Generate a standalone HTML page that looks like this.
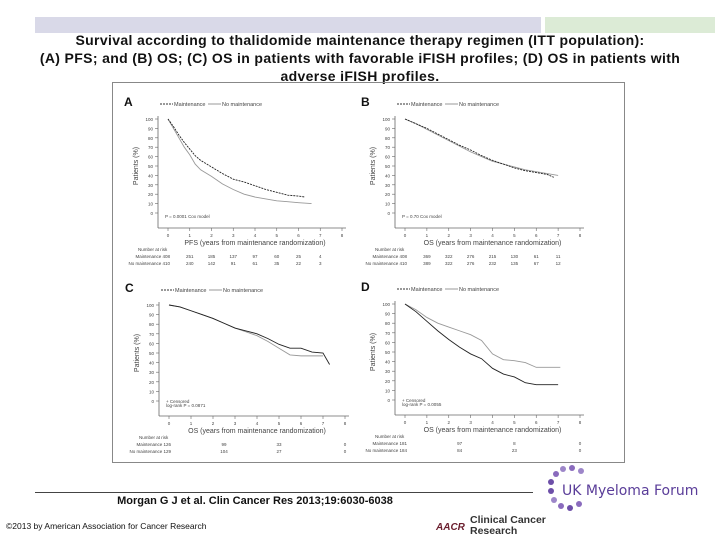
<!DOCTYPE html>
<html><head><meta charset="utf-8"><style>
body{margin:0;width:720px;height:540px;background:#fff;position:relative;overflow:hidden;font-family:"Liberation Sans",sans-serif}
.t{position:absolute;left:0;width:720px;text-align:center;font-weight:bold;font-size:14px;letter-spacing:0.35px;line-height:18px;color:#111;white-space:nowrap}
</style></head><body>
<div style="position:absolute;left:35px;top:17px;width:506px;height:16px;background:#d9d9e8"></div>
<div style="position:absolute;left:545px;top:17px;width:170px;height:16px;background:#dcebd6"></div>
<div class="t" style="top:31px">Survival according to thalidomide maintenance therapy regimen (ITT population):<br>(A) PFS; and (B) OS; (C) OS in patients with favorable iFISH profiles; (D) OS in patients with<br>adverse iFISH profiles.</div>
<svg width="720" height="540" style="position:absolute;left:0;top:0">
<rect x="112.5" y="82.5" width="512" height="380" fill="none" stroke="#888"/>
<g id="g"></g>
<line x1="35" y1="492.5" x2="533" y2="492.5" stroke="#444"/>
<text x="255" y="504" font-size="11" font-weight="bold" text-anchor="middle" fill="#111">Morgan G J et al. Clin Cancer Res 2013;19:6030-6038</text>
<text x="6" y="529" font-size="8.5" fill="#111">©2013 by American Association for Cancer Research</text>
<g>
<circle cx="556" cy="474" r="3" fill="#8a6bbd"/><circle cx="563" cy="469" r="3" fill="#9d86c9"/><circle cx="572" cy="468" r="3" fill="#8a6bbd"/><circle cx="581" cy="471" r="3" fill="#9d86c9"/>
<circle cx="551" cy="482" r="3" fill="#6d4fa8"/><circle cx="551" cy="491" r="3" fill="#6d4fa8"/><circle cx="554" cy="500" r="3" fill="#9d86c9"/><circle cx="561" cy="506" r="3" fill="#8a6bbd"/><circle cx="570" cy="508" r="3" fill="#6d4fa8"/><circle cx="579" cy="504" r="3" fill="#8a6bbd"/>
<text x="562" y="495" font-size="14" fill="#5a3d99" font-family="DejaVu Sans, sans-serif">UK Myeloma Forum</text></g>
<g>
<text x="436" y="530" font-size="10" font-weight="bold" fill="#6b1e2e" font-style="italic">AACR</text>
<text x="470" y="523" font-size="10.5" font-weight="bold" fill="#333">Clinical Cancer</text>
<text x="470" y="534" font-size="10.5" font-weight="bold" fill="#333">Research</text></g>
</svg>
<script>
const panelLabels=["A","B","C","D"];
const xTitles=["PFS (years from maintenance randomization)","OS (years from maintenance randomization)","OS (years from maintenance randomization)","OS (years from maintenance randomization)"];
const statText=[["P = 0.0001 Cox model"],["P = 0.70 Cox model"],["+ Censored","log-rank P = 0.0871"],["+ Censored","log-rank P = 0.0055"]];
const yTicks=[0,10,20,30,40,50,60,70,80,90,100];
const xTicks=[0,1,2,3,4,5,6,7,8];
const maintT=[[0,0.25,0.5,0.75,1,1.25,1.5,2,2.5,3,3.5,4,4.5,5,5.5,6,6.3],[0,0.5,1,1.5,2,2.5,3,3.5,4,4.5,5,5.5,6,6.5,6.8],[0,0.5,1,1.5,2,2.5,3,3.5,4,4.5,5,5.5,6,6.5,7,7.3],[0,0.5,1,1.5,2,2.5,3,3.5,4,4.5,5,5.5,6,7]];
const maintS=[[100,92,83,75,68,61,56,49,42,36,33,29,25,22,19,18,17],[100,95,90,84,78,72,67,61,56,52,48,45,43,41,38],[100,98,94,90,86,81,76,73,70,65,59,55,55,51,50,38],[100,92,82,72,63,55,48,43,33,27,24,18,16,16]];
const nonT=[[0,0.25,0.5,0.75,1,1.25,1.5,2,2.5,3,3.5,4,4.5,5,5.5,6,6.6],[0,0.5,1,1.5,2,2.5,3,3.5,4,4.5,5,5.5,6,6.5,7],[0,0.5,1,1.5,2,2.5,3,3.5,4,4.5,5,5.5,6,6.5,7],[0,0.5,1,1.5,2,2.5,3,3.5,4,4.5,5,5.5,6,7.1]];
const nonS=[[100,90,80,70,62,52,46,39,31,25,20,17,15,13,12,11,10],[100,95,89,83,77,71,65,60,55,52,49,46,44,42,40],[100,98,94,90,86,81,76,72,68,62,55,48,47,47,47],[100,94,86,80,76,72,68,62,48,42,41,39,34,34]];
const riskX=[[1,2,3,4,5,6,7],[1,2,3,4,5,6,7],[2.5,5,8],[2.5,5,8]];
const riskM=[["251","185","137","97","60","25","4"],["369","322","276","215","130","61","11"],["99","33","0"],["97","8","0"]];
const riskN=[["240","142","91","61","35","22","3"],["389","322","276","232","135","67","12"],["104","27","0"],["84","23","0"]];
const riskLab=[["Maintenance 408","No maintenance 410"],["Maintenance 408","No maintenance 410"],["Maintenance 126","No maintenance 129"],["Maintenance 181","No maintenance 184"]];
const geom=[{x0:168,x1:342,y100:119,y0:213},{x0:405,x1:580,y100:119,y0:213},{x0:169,x1:345,y100:305,y0:401},{x0:405,x1:580,y100:304,y0:400}];
const NS="http://www.w3.org/2000/svg";
const root=document.getElementById('g');
function mk(tag,attrs,parent){const e=document.createElementNS(NS,tag);for(const k in attrs)e.setAttribute(k,attrs[k]);(parent||root).appendChild(e);return e;}
function txt(x,y,s,size,anchor,parent,fill){const e=mk('text',{x:x,y:y,'font-size':size,'text-anchor':anchor||'start',fill:fill||'#444'},parent);e.textContent=s;return e;}
geom.forEach((G,p)=>{
  const g=mk('g',{});
  
  
  const sx=v=>G.x0+(G.x1-G.x0)*v/8;
  const sy=v=>G.y0-(G.y0-G.y100)*v/100;
  const axY=G.y0+15, axX=G.x0-10;
  const lab=txt(G.x0-44,G.y100-13,panelLabels[p],12,'start',g,'#111');lab.setAttribute('font-weight','bold');
  
  
  const lg=mk('g',{},g);
  
  
  mk('line',{x1:G.x0-8,y1:G.y100-15,x2:G.x0+5,y2:G.y100-15,stroke:'#333','stroke-dasharray':'2,1'},lg);
  txt(G.x0+6,G.y100-13,'Maintenance',5.5,'start',lg);
  mk('line',{x1:G.x0+40,y1:G.y100-15,x2:G.x0+53,y2:G.y100-15,stroke:'#999'},lg);
  txt(G.x0+54,G.y100-13,'No maintenance',5.5,'start',lg);
  mk('line',{x1:axX,y1:G.y100-3,x2:axX,y2:axY,stroke:'#666','stroke-width':0.8},g);
  mk('line',{x1:axX,y1:axY,x2:G.x1+4,y2:axY,stroke:'#666','stroke-width':0.8},g);
  yTicks.forEach(v=>{mk('line',{x1:axX,y1:sy(v),x2:axX-3,y2:sy(v),stroke:'#666','stroke-width':0.6},g);txt(axX-5,sy(v)+2,String(v),4.5,'end',g);});
  xTicks.forEach(v=>{mk('line',{x1:sx(v),y1:axY,x2:sx(v),y2:axY+3,stroke:'#666','stroke-width':0.6},g);txt(sx(v),axY+9,String(v),4.5,'middle',g);});
  const yt=txt(0,0,'Patients (%)',7,'middle',g);yt.setAttribute('transform','translate('+(axX-20)+','+((G.y0+G.y100)/2)+') rotate(-90)');
  
  
  const xt=txt((G.x0+G.x1)/2,axY+17,xTitles[p],7,'middle',g);
  
  
  statText[p].forEach((s,i)=>txt(G.x0-3,G.y0+(i?9:5)-(statText[p].length>1?3:0),s,4.5,'start',g));
  function curve(T,S,color,dash,name){let d='M'+sx(T[0])+','+sy(S[0]);for(let i=1;i<T.length;i++){d+='L'+sx(T[i])+','+sy(S[i]);}
    const a={d:d,fill:'none',stroke:color,'stroke-width':0.9};if(dash)a['stroke-dasharray']=dash;const e=mk('path',a,g);
    
    }
  curve(nonT[p],nonS[p],'#999',null,'curve-no-maintenance');
  curve(maintT[p],maintS[p],'#222',p<2?'2,1':null,'curve-maintenance');
  const ry=axY+23;
  txt(G.x0-30,ry,'Number at risk',4.5,'start',g);
  txt(G.x0+2,ry+7,riskLab[p][0],4.5,'end',g);
  txt(G.x0+2,ry+14,riskLab[p][1],4.5,'end',g);
  riskX[p].forEach((v,i)=>{txt(sx(v),ry+7,riskM[p][i],4.5,'middle',g);txt(sx(v),ry+14,riskN[p][i],4.5,'middle',g);});
});
</script>
</body></html>
